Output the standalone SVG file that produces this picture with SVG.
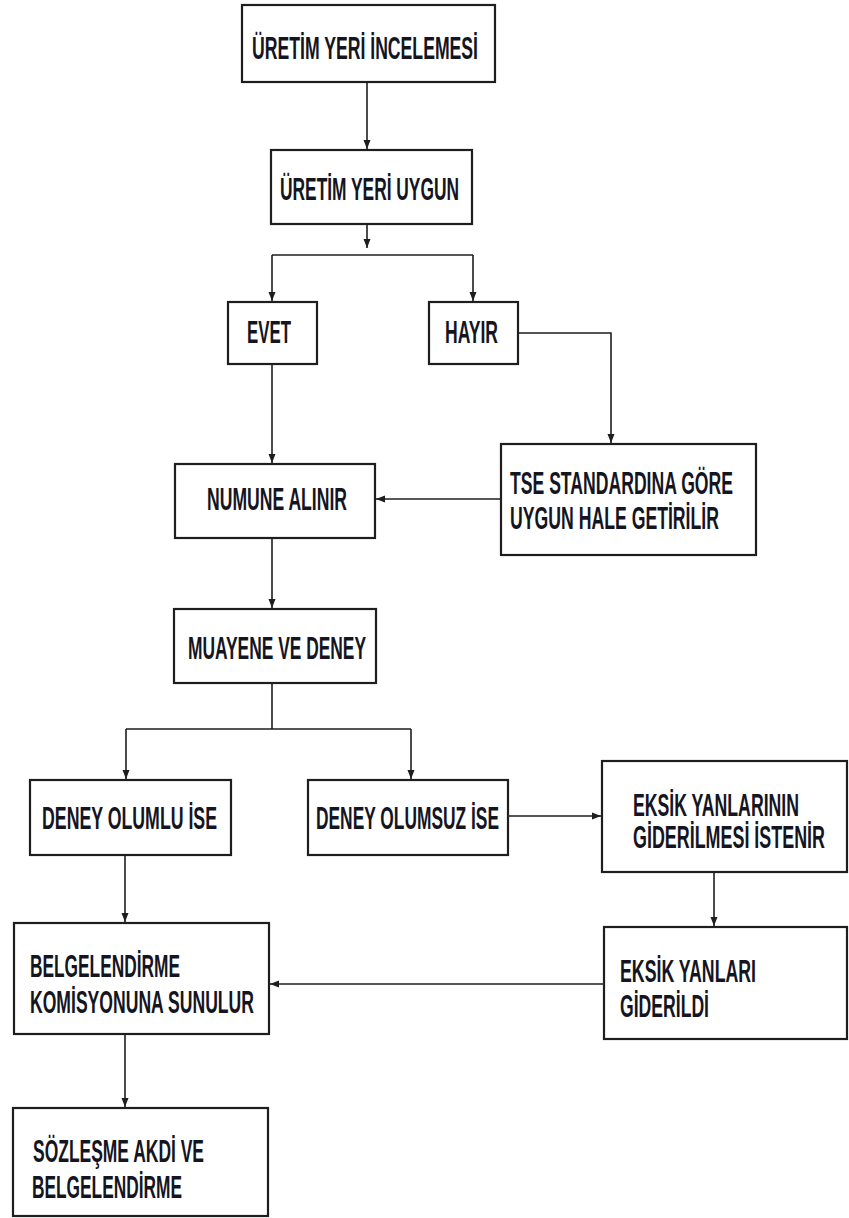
<svg xmlns="http://www.w3.org/2000/svg" width="849" height="1218" viewBox="0 0 849 1218">
<style>
.box{fill:#fff;stroke:#1e1e1e;stroke-width:2.2}
.t{font-family:"Liberation Sans",Arial,sans-serif;font-weight:bold;font-size:30.5px;fill:#15151f}
.c{fill:none;stroke:#1e1e1e;stroke-width:1.6}
</style>
<defs>
<marker id="ah" markerUnits="userSpaceOnUse" markerWidth="10" markerHeight="10" viewBox="0 0 10 10" refX="9" refY="5" orient="auto">
<path d="M0,1.5 L9,5 L0,8.5 Z" fill="#1e1e1e"/>
</marker>
</defs>
<rect width="849" height="1218" fill="#fff"/>
<g id="connectors">
<path class="c" d="M367,82 V149" marker-end="url(#ah)"/>
<path class="c" d="M367,224 V248" marker-end="url(#ah)"/>
<path class="c" d="M272,255 H473"/>
<path class="c" d="M272,255 V301" marker-end="url(#ah)"/>
<path class="c" d="M473,255 V301" marker-end="url(#ah)"/>
<path class="c" d="M272,364 V463" marker-end="url(#ah)"/>
<path class="c" d="M518,333 H611 V443" marker-end="url(#ah)"/>
<path class="c" d="M501,499 H376" marker-end="url(#ah)"/>
<path class="c" d="M272,538 V608" marker-end="url(#ah)"/>
<path class="c" d="M272,683 V729 M126,729 H411"/>
<path class="c" d="M126,729 V779" marker-end="url(#ah)"/>
<path class="c" d="M411,729 V779" marker-end="url(#ah)"/>
<path class="c" d="M508,816 H601" marker-end="url(#ah)"/>
<path class="c" d="M714,872 V926" marker-end="url(#ah)"/>
<path class="c" d="M604,984 H270" marker-end="url(#ah)"/>
<path class="c" d="M125,855 V922" marker-end="url(#ah)"/>
<path class="c" d="M125,1034 V1107" marker-end="url(#ah)"/>
</g>
<g id="n1"><rect class="box" x="242" y="5" width="253" height="77"/><text class="t" transform="translate(252,59) scale(0.6,1)" textLength="376.7" lengthAdjust="spacingAndGlyphs">ÜRETİM YERİ İNCELEMESİ</text></g>
<g id="n2"><rect class="box" x="271" y="150" width="201" height="74"/><text class="t" transform="translate(280,200) scale(0.6,1)" textLength="298.3" lengthAdjust="spacingAndGlyphs">ÜRETİM YERİ UYGUN</text></g>
<g id="n3"><rect class="box" x="228" y="302" width="89" height="62"/><text class="t" transform="translate(247,343) scale(0.6,1)" textLength="73.3" lengthAdjust="spacingAndGlyphs">EVET</text></g>
<g id="n4"><rect class="box" x="429" y="302" width="89" height="62"/><text class="t" transform="translate(445,343) scale(0.6,1)" textLength="88.3" lengthAdjust="spacingAndGlyphs">HAYIR</text></g>
<g id="n5"><rect class="box" x="175" y="464" width="200" height="74"/><text class="t" transform="translate(207,510) scale(0.6,1)" textLength="233.3" lengthAdjust="spacingAndGlyphs">NUMUNE ALINIR</text></g>
<g id="n6"><rect class="box" x="501" y="444" width="255" height="111"/><text class="t" transform="translate(510,494) scale(0.6,1)" textLength="371.7" lengthAdjust="spacingAndGlyphs">TSE STANDARDINA GÖRE</text><text class="t" transform="translate(510,529) scale(0.6,1)" textLength="348.3" lengthAdjust="spacingAndGlyphs">UYGUN HALE GETİRİLİR</text></g>
<g id="n7"><rect class="box" x="174" y="609" width="202" height="74"/><text class="t" transform="translate(188,659) scale(0.6,1)" textLength="296.7" lengthAdjust="spacingAndGlyphs">MUAYENE VE DENEY</text></g>
<g id="n8"><rect class="box" x="30" y="780" width="201" height="75"/><text class="t" transform="translate(42,829) scale(0.6,1)" textLength="291.7" lengthAdjust="spacingAndGlyphs">DENEY OLUMLU İSE</text></g>
<g id="n9"><rect class="box" x="308" y="780" width="200" height="75"/><text class="t" transform="translate(316,829) scale(0.6,1)" textLength="305" lengthAdjust="spacingAndGlyphs">DENEY OLUMSUZ İSE</text></g>
<g id="n10"><rect class="box" x="602" y="761" width="245" height="111"/><text class="t" transform="translate(633,816) scale(0.6,1)" textLength="276.7" lengthAdjust="spacingAndGlyphs">EKSİK YANLARININ</text><text class="t" transform="translate(633,848) scale(0.6,1)" textLength="320" lengthAdjust="spacingAndGlyphs">GİDERİLMESİ İSTENİR</text></g>
<g id="n11"><rect class="box" x="14" y="923" width="255" height="111"/><text class="t" transform="translate(30,977) scale(0.6,1)" textLength="250" lengthAdjust="spacingAndGlyphs">BELGELENDİRME</text><text class="t" transform="translate(30,1013) scale(0.6,1)" textLength="373.3" lengthAdjust="spacingAndGlyphs">KOMİSYONUNA SUNULUR</text></g>
<g id="n12"><rect class="box" x="604" y="927" width="243" height="112"/><text class="t" transform="translate(620,982) scale(0.6,1)" textLength="226.7" lengthAdjust="spacingAndGlyphs">EKSİK YANLARI</text><text class="t" transform="translate(620,1017) scale(0.6,1)" textLength="148.3" lengthAdjust="spacingAndGlyphs">GİDERİLDİ</text></g>
<g id="n13"><rect class="box" x="13" y="1108" width="255" height="108"/><text class="t" transform="translate(33,1162) scale(0.6,1)" textLength="285" lengthAdjust="spacingAndGlyphs">SÖZLEŞME AKDİ VE</text><text class="t" transform="translate(32,1198) scale(0.6,1)" textLength="250" lengthAdjust="spacingAndGlyphs">BELGELENDİRME</text></g>
</svg>
